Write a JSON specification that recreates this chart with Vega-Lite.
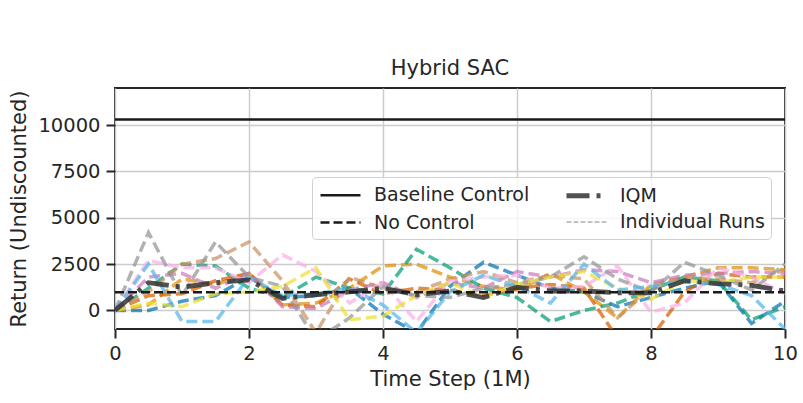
{
  "$schema": "https://vega.github.io/schema/vega-lite/v6.json",
  "width": 670,
  "height": 241,
  "autosize": "none",
  "padding": {"left": 115, "top": 88, "right": 18, "bottom": 74},
  "background": "white",
  "title": {"text": "Hybrid SAC", "fontSize": 21, "font": "DejaVu Sans", "fontWeight": "normal", "color": "#262626", "offset": 9},
  "config": {
    "font": "DejaVu Sans",
    "view": {"stroke": "#262626", "strokeWidth": 2},
    "axis": {
      "labelFont": "DejaVu Sans", "labelFontSize": 19.5, "labelColor": "#262626", "labelFlush": false,
      "titleFont": "DejaVu Sans", "titleFontSize": 21, "titleFontWeight": "normal", "titleColor": "#262626",
      "gridColor": "#cccccc", "gridWidth": 1.5, "domain": false,
      "tickColor": "#262626", "tickWidth": 2, "tickSize": 9, "labelPadding": 5
    }
  },
  "datasets": {
    "runs": [
      {"name": "r0", "t": 0, "v": 0}, {"name": "r0", "t": 0.5, "v": 0}, {"name": "r0", "t": 1, "v": 500}, {"name": "r0", "t": 1.5, "v": 800}, {"name": "r0", "t": 2, "v": 1800}, {"name": "r0", "t": 2.5, "v": 700}, {"name": "r0", "t": 3, "v": 800}, {"name": "r0", "t": 3.5, "v": 1200}, {"name": "r0", "t": 4, "v": -200}, {"name": "r0", "t": 4.5, "v": -1200}, {"name": "r0", "t": 5, "v": 1300}, {"name": "r0", "t": 5.5, "v": 2600}, {"name": "r0", "t": 6, "v": 1900}, {"name": "r0", "t": 6.5, "v": 1200}, {"name": "r0", "t": 7, "v": 1000}, {"name": "r0", "t": 7.5, "v": 200}, {"name": "r0", "t": 8, "v": 700}, {"name": "r0", "t": 8.5, "v": 1200}, {"name": "r0", "t": 9, "v": 1600}, {"name": "r0", "t": 9.5, "v": -700}, {"name": "r0", "t": 10, "v": 500},
      {"name": "r1", "t": 0, "v": 0}, {"name": "r1", "t": 0.5, "v": 300}, {"name": "r1", "t": 1, "v": 1700}, {"name": "r1", "t": 1.5, "v": 1400}, {"name": "r1", "t": 2, "v": 2000}, {"name": "r1", "t": 2.5, "v": 300}, {"name": "r1", "t": 3, "v": 400}, {"name": "r1", "t": 3.5, "v": 1200}, {"name": "r1", "t": 4, "v": 2400}, {"name": "r1", "t": 4.5, "v": 2500}, {"name": "r1", "t": 5, "v": 1800}, {"name": "r1", "t": 5.5, "v": 1300}, {"name": "r1", "t": 6, "v": 1100}, {"name": "r1", "t": 6.5, "v": 2000}, {"name": "r1", "t": 7, "v": 1000}, {"name": "r1", "t": 7.5, "v": -400}, {"name": "r1", "t": 8, "v": 1400}, {"name": "r1", "t": 8.5, "v": 1800}, {"name": "r1", "t": 9, "v": 2300}, {"name": "r1", "t": 9.5, "v": 2300}, {"name": "r1", "t": 10, "v": 2200},
      {"name": "r2", "t": 0, "v": 0}, {"name": "r2", "t": 0.5, "v": 1200}, {"name": "r2", "t": 1, "v": 2500}, {"name": "r2", "t": 1.5, "v": 2400}, {"name": "r2", "t": 2, "v": 1200}, {"name": "r2", "t": 2.5, "v": 700}, {"name": "r2", "t": 3, "v": 1800}, {"name": "r2", "t": 3.5, "v": 1200}, {"name": "r2", "t": 4, "v": 900}, {"name": "r2", "t": 4.5, "v": 3300}, {"name": "r2", "t": 5, "v": 2300}, {"name": "r2", "t": 5.5, "v": 1200}, {"name": "r2", "t": 6, "v": 700}, {"name": "r2", "t": 6.5, "v": -600}, {"name": "r2", "t": 7, "v": 0}, {"name": "r2", "t": 7.5, "v": 400}, {"name": "r2", "t": 8, "v": 1100}, {"name": "r2", "t": 8.5, "v": 1800}, {"name": "r2", "t": 9, "v": 1600}, {"name": "r2", "t": 9.5, "v": -500}, {"name": "r2", "t": 10, "v": 200},
      {"name": "r3", "t": 0, "v": 0}, {"name": "r3", "t": 0.5, "v": 800}, {"name": "r3", "t": 1, "v": 900}, {"name": "r3", "t": 1.5, "v": 1600}, {"name": "r3", "t": 2, "v": 2000}, {"name": "r3", "t": 2.5, "v": 300}, {"name": "r3", "t": 3, "v": 200}, {"name": "r3", "t": 3.5, "v": 1700}, {"name": "r3", "t": 4, "v": 900}, {"name": "r3", "t": 4.5, "v": 1200}, {"name": "r3", "t": 5, "v": 1100}, {"name": "r3", "t": 5.5, "v": 800}, {"name": "r3", "t": 6, "v": 1200}, {"name": "r3", "t": 6.5, "v": 1400}, {"name": "r3", "t": 7, "v": 1200}, {"name": "r3", "t": 7.5, "v": -1500}, {"name": "r3", "t": 8, "v": -1500}, {"name": "r3", "t": 8.5, "v": 1000}, {"name": "r3", "t": 9, "v": 2000}, {"name": "r3", "t": 9.5, "v": 1800}, {"name": "r3", "t": 10, "v": 1800},
      {"name": "r4", "t": 0, "v": 0}, {"name": "r4", "t": 0.5, "v": 1800}, {"name": "r4", "t": 1, "v": 2000}, {"name": "r4", "t": 1.5, "v": 1200}, {"name": "r4", "t": 2, "v": 2000}, {"name": "r4", "t": 2.5, "v": 200}, {"name": "r4", "t": 3, "v": 100}, {"name": "r4", "t": 3.5, "v": 1100}, {"name": "r4", "t": 4, "v": 1500}, {"name": "r4", "t": 4.5, "v": 700}, {"name": "r4", "t": 5, "v": 1500}, {"name": "r4", "t": 5.5, "v": 1200}, {"name": "r4", "t": 6, "v": 2100}, {"name": "r4", "t": 6.5, "v": 1800}, {"name": "r4", "t": 7, "v": 2200}, {"name": "r4", "t": 7.5, "v": 2100}, {"name": "r4", "t": 8, "v": 1500}, {"name": "r4", "t": 8.5, "v": 1900}, {"name": "r4", "t": 9, "v": 2000}, {"name": "r4", "t": 9.5, "v": 2100}, {"name": "r4", "t": 10, "v": 2000},
      {"name": "r5", "t": 0, "v": 0}, {"name": "r5", "t": 0.5, "v": 1000}, {"name": "r5", "t": 1, "v": 2500}, {"name": "r5", "t": 1.5, "v": 2800}, {"name": "r5", "t": 2, "v": 3700}, {"name": "r5", "t": 2.5, "v": 1600}, {"name": "r5", "t": 3, "v": -1200}, {"name": "r5", "t": 3.5, "v": 1800}, {"name": "r5", "t": 4, "v": 1200}, {"name": "r5", "t": 4.5, "v": 1000}, {"name": "r5", "t": 5, "v": 1700}, {"name": "r5", "t": 5.5, "v": 2100}, {"name": "r5", "t": 6, "v": 1500}, {"name": "r5", "t": 6.5, "v": 1900}, {"name": "r5", "t": 7, "v": 1700}, {"name": "r5", "t": 7.5, "v": -400}, {"name": "r5", "t": 8, "v": 1200}, {"name": "r5", "t": 8.5, "v": 1800}, {"name": "r5", "t": 9, "v": 1700}, {"name": "r5", "t": 9.5, "v": 1500}, {"name": "r5", "t": 10, "v": 2200},
      {"name": "r6", "t": 0, "v": 0}, {"name": "r6", "t": 0.5, "v": 2700}, {"name": "r6", "t": 1, "v": 2300}, {"name": "r6", "t": 1.5, "v": 2300}, {"name": "r6", "t": 2, "v": 1500}, {"name": "r6", "t": 2.5, "v": 3000}, {"name": "r6", "t": 3, "v": 2100}, {"name": "r6", "t": 3.5, "v": 400}, {"name": "r6", "t": 4, "v": 1500}, {"name": "r6", "t": 4.5, "v": -600}, {"name": "r6", "t": 5, "v": 1600}, {"name": "r6", "t": 5.5, "v": 1800}, {"name": "r6", "t": 6, "v": 1900}, {"name": "r6", "t": 6.5, "v": 1200}, {"name": "r6", "t": 7, "v": 1300}, {"name": "r6", "t": 7.5, "v": 2400}, {"name": "r6", "t": 8, "v": -100}, {"name": "r6", "t": 8.5, "v": 400}, {"name": "r6", "t": 9, "v": 2300}, {"name": "r6", "t": 9.5, "v": 1800}, {"name": "r6", "t": 10, "v": 900},
      {"name": "r7", "t": 0, "v": 0}, {"name": "r7", "t": 0.5, "v": 4200}, {"name": "r7", "t": 1, "v": 800}, {"name": "r7", "t": 1.5, "v": 3700}, {"name": "r7", "t": 2, "v": 1800}, {"name": "r7", "t": 2.5, "v": 1300}, {"name": "r7", "t": 3, "v": -1600}, {"name": "r7", "t": 3.5, "v": -400}, {"name": "r7", "t": 4, "v": 1300}, {"name": "r7", "t": 4.5, "v": 800}, {"name": "r7", "t": 5, "v": 700}, {"name": "r7", "t": 5.5, "v": 1200}, {"name": "r7", "t": 6, "v": 1400}, {"name": "r7", "t": 6.5, "v": 1800}, {"name": "r7", "t": 7, "v": 2900}, {"name": "r7", "t": 7.5, "v": 1700}, {"name": "r7", "t": 8, "v": 1000}, {"name": "r7", "t": 8.5, "v": 2600}, {"name": "r7", "t": 9, "v": 1900}, {"name": "r7", "t": 9.5, "v": 1100}, {"name": "r7", "t": 10, "v": 2500},
      {"name": "r8", "t": 0, "v": 0}, {"name": "r8", "t": 0.5, "v": 400}, {"name": "r8", "t": 1, "v": 200}, {"name": "r8", "t": 1.5, "v": 900}, {"name": "r8", "t": 2, "v": 1000}, {"name": "r8", "t": 2.5, "v": 1300}, {"name": "r8", "t": 3, "v": 2300}, {"name": "r8", "t": 3.5, "v": -500}, {"name": "r8", "t": 4, "v": -300}, {"name": "r8", "t": 4.5, "v": 800}, {"name": "r8", "t": 5, "v": 1500}, {"name": "r8", "t": 5.5, "v": 700}, {"name": "r8", "t": 6, "v": 1400}, {"name": "r8", "t": 6.5, "v": 1800}, {"name": "r8", "t": 7, "v": 2100}, {"name": "r8", "t": 7.5, "v": 1200}, {"name": "r8", "t": 8, "v": 600}, {"name": "r8", "t": 8.5, "v": 1600}, {"name": "r8", "t": 9, "v": 1500}, {"name": "r8", "t": 9.5, "v": 1800}, {"name": "r8", "t": 10, "v": 1800},
      {"name": "r9", "t": 0, "v": 0}, {"name": "r9", "t": 0.5, "v": 2500}, {"name": "r9", "t": 1, "v": -600}, {"name": "r9", "t": 1.5, "v": -600}, {"name": "r9", "t": 2, "v": 1800}, {"name": "r9", "t": 2.5, "v": 800}, {"name": "r9", "t": 3, "v": 900}, {"name": "r9", "t": 3.5, "v": 1200}, {"name": "r9", "t": 4, "v": 300}, {"name": "r9", "t": 4.5, "v": -1200}, {"name": "r9", "t": 5, "v": 1000}, {"name": "r9", "t": 5.5, "v": 1900}, {"name": "r9", "t": 6, "v": 1300}, {"name": "r9", "t": 6.5, "v": 400}, {"name": "r9", "t": 7, "v": 2500}, {"name": "r9", "t": 7.5, "v": 1100}, {"name": "r9", "t": 8, "v": 1300}, {"name": "r9", "t": 8.5, "v": 1600}, {"name": "r9", "t": 9, "v": 1400}, {"name": "r9", "t": 9.5, "v": 800}, {"name": "r9", "t": 10, "v": -1000}
    ],
    "series": [
      {"name": "IQM", "t": 0, "v": 0}, {"name": "IQM", "t": 0.5, "v": 1500}, {"name": "IQM", "t": 1, "v": 1250}, {"name": "IQM", "t": 1.5, "v": 1500}, {"name": "IQM", "t": 2, "v": 1650}, {"name": "IQM", "t": 2.5, "v": 650}, {"name": "IQM", "t": 3, "v": 850}, {"name": "IQM", "t": 3.5, "v": 1000}, {"name": "IQM", "t": 4, "v": 1200}, {"name": "IQM", "t": 4.5, "v": 850}, {"name": "IQM", "t": 5, "v": 1050}, {"name": "IQM", "t": 5.5, "v": 700}, {"name": "IQM", "t": 6, "v": 1250}, {"name": "IQM", "t": 6.5, "v": 1050}, {"name": "IQM", "t": 7, "v": 1050}, {"name": "IQM", "t": 7.5, "v": 950}, {"name": "IQM", "t": 8, "v": 950}, {"name": "IQM", "t": 8.5, "v": 1600}, {"name": "IQM", "t": 9, "v": 1450}, {"name": "IQM", "t": 9.5, "v": 1350}, {"name": "IQM", "t": 10, "v": 1050},
      {"name": "Baseline Control", "t": 0, "v": 10300}, {"name": "Baseline Control", "t": 10, "v": 10300},
      {"name": "No Control", "t": 0, "v": 980}, {"name": "No Control", "t": 10, "v": 980}
    ]
  },
  "encoding": {
    "x": {"field": "t", "type": "quantitative", "title": "Time Step (1M)", "scale": {"domain": [0, 10], "nice": false}, "axis": {"values": [0, 2, 4, 6, 8, 10], "format": "d", "labelPadding": 6, "titlePadding": 6}},
    "y": {"field": "v", "type": "quantitative", "title": "Return (Undiscounted)", "scale": {"domain": [-1000, 12000], "nice": false, "zero": false}, "axis": {"values": [0, 2500, 5000, 7500, 10000], "format": "d", "labelPadding": 6, "titlePadding": 8}},
    "color": {"field": "name", "type": "nominal", "title": null,
      "scale": {"domain": ["Baseline Control", "No Control", "IQM", "Individual Runs", "r0", "r1", "r2", "r3", "r4", "r5", "r6", "r7", "r8", "r9"],
        "range": ["#1a1a1a", "#1a1a1a", "#333333", "#b0b0b0", "#0173b2", "#de8f05", "#029e73", "#d55e00", "#cc78bc", "#ca9161", "#fbafe4", "#949494", "#ece133", "#56b4e9"]},
      "legend": {
        "values": ["Baseline Control", "No Control", "IQM", "Individual Runs"],
        "orient": "none", "legendX": 197, "legendY": 89, "columns": 2, "columnPadding": 26, "rowPadding": 5,
        "symbolType": "M-1,0H3", "symbolSize": 400, "labelFontSize": 19, "labelFont": "DejaVu Sans", "labelColor": "#262626", "labelOffset": 31,
        "padding": 6, "fillColor": "rgba(255,255,255,0.8)", "strokeColor": "#d0d0d0", "cornerRadius": 4, "labelLimit": 300
      }},
    "strokeDash": {"field": "name", "type": "nominal", "title": null,
      "scale": {"domain": ["Baseline Control", "No Control", "IQM", "Individual Runs", "r0", "r1", "r2", "r3", "r4", "r5", "r6", "r7", "r8", "r9"],
        "range": [[1, 0], [9, 4], [23, 7, 4, 7], [5, 2], [11, 5], [11, 5], [11, 5], [11, 5], [11, 5], [11, 5], [11, 5], [11, 5], [11, 5], [11, 5]]}},
    "strokeWidth": {"field": "name", "type": "nominal", "title": null,
      "scale": {"type": "ordinal", "domain": ["Baseline Control", "No Control", "IQM", "Individual Runs", "r0", "r1", "r2", "r3", "r4", "r5", "r6", "r7", "r8", "r9"],
        "range": [2.4, 2.6, 4.8, 1.4, 3.5, 3.5, 3.5, 3.5, 3.5, 3.5, 3.5, 3.5, 3.5, 3.5]}},
    "opacity": {"field": "name", "type": "nominal", "title": null,
      "scale": {"type": "ordinal", "domain": ["Baseline Control", "No Control", "IQM", "Individual Runs", "r0", "r1", "r2", "r3", "r4", "r5", "r6", "r7", "r8", "r9"],
        "range": [1, 1, 0.85, 1, 0.72, 0.72, 0.72, 0.72, 0.72, 0.72, 0.72, 0.72, 0.72, 0.72]}}
  },
  "layer": [
    {
      "data": {"name": "runs"},
      "mark": {"type": "line", "clip": true},
      "encoding": {"order": {"field": "t", "type": "quantitative"}}
    },
    {
      "data": {"name": "series"},
      "mark": {"type": "line", "clip": true},
      "encoding": {"order": {"field": "t", "type": "quantitative"}}
    }
  ]
}
